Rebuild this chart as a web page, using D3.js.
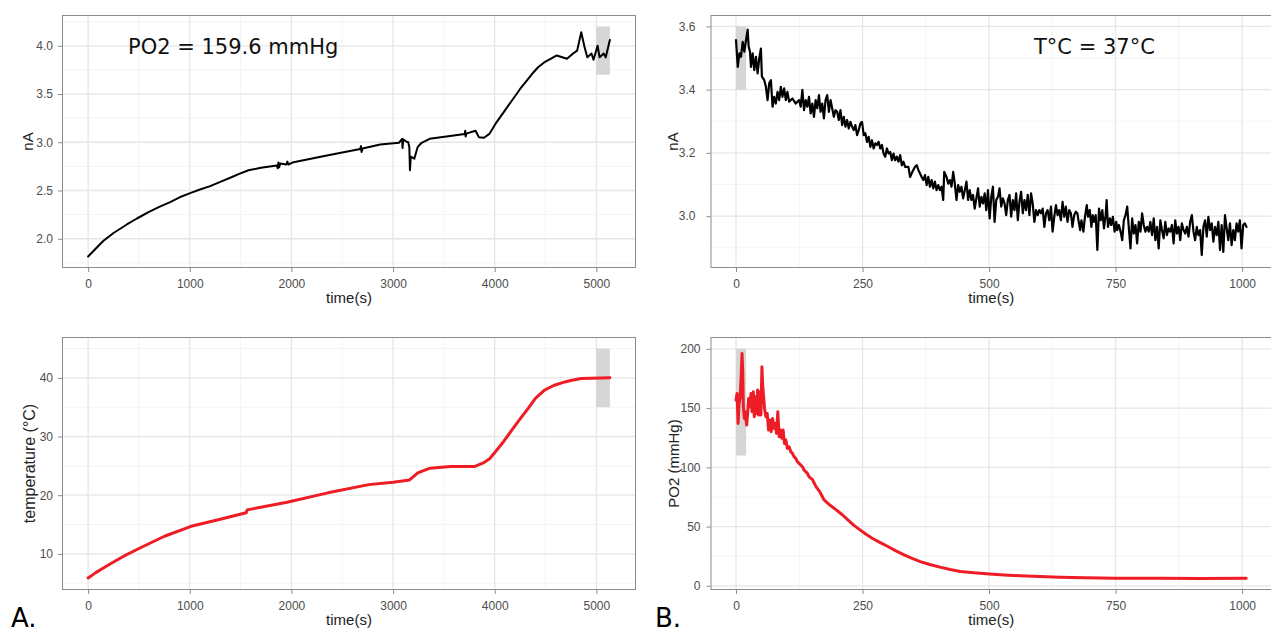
<!DOCTYPE html>
<html><head><meta charset="utf-8">
<script src="https://cdn.jsdelivr.net/npm/d3@7"></script>
<style>body{margin:0;background:#fff} svg{display:block}</style>
</head><body>
<svg id="c" width="1271" height="633"></svg>
<script>
// ---------- DATA ----------
// Panel A (top): electrode current (nA) vs time (s)
const currentA = [[0,1.816],[50,1.87],[100,1.925],[151,1.98],[250,2.06],[381,2.148],[480,2.21],[594,2.276],[700,2.33],[807,2.38],[900,2.43],[1004,2.473],[1100,2.51],[1201,2.545],[1300,2.59],[1398,2.632],[1480,2.67],[1578,2.71],[1700,2.735],[1857,2.76],[1865,2.73],[1872,2.79],[1880,2.74],[1890,2.78],[1950,2.77],[1960,2.80],[1970,2.77],[2021,2.794],[2349,2.863],[2677,2.93],[2685,2.96],[2690,2.90],[2700,2.935],[2874,2.977],[3005,2.99],[3058,2.995],[3090,3.036],[3093,2.94],[3100,3.03],[3125,3.01],[3149,3.00],[3160,2.95],[3166,2.71],[3175,2.85],[3209,2.83],[3242,2.95],[3276,2.99],[3360,3.036],[3543,3.063],[3705,3.085],[3710,3.12],[3714,3.06],[3720,3.09],[3811,3.12],[3844,3.053],[3895,3.047],[3950,3.09],[4007,3.19],[4087,3.31],[4168,3.43],[4248,3.55],[4369,3.71],[4429,3.78],[4490,3.83],[4550,3.865],[4610,3.90],[4711,3.865],[4771,3.92],[4811,3.95],[4851,4.14],[4883,3.99],[4911,3.88],[4952,3.92],[4972,3.855],[5012,4.00],[5032,3.88],[5072,3.92],[5092,3.88],[5133,4.06]];
// Panel A (bottom): temperature (°C) vs time (s)
const temperatureA = [[0,5.9],[75,6.8],[150,7.6],[250,8.6],[350,9.6],[510,11.0],[751,13.0],[1013,14.7],[1300,15.9],[1555,17.0],[1565,17.5],[1957,18.8],[2359,20.4],[2761,21.8],[3002,22.2],[3163,22.6],[3243,23.8],[3364,24.6],[3565,24.9],[3806,24.9],[3887,25.5],[3950,26.2],[4007,27.4],[4090,29.2],[4168,31.1],[4250,33.0],[4329,34.8],[4400,36.5],[4490,37.9],[4580,38.7],[4690,39.3],[4760,39.6],[4851,39.9],[5133,40.0]];
// Panel B (top): electrode current (nA) vs time (s) at 37 °C
const currentB = [[0,3.557],[3.4,3.472],[6.7,3.515],[9.9,3.504],[13.2,3.551],[16.5,3.520],[19.8,3.557],[23.0,3.590],[25.0,3.536],[27.6,3.520],[29.6,3.472],[32.9,3.515],[36.1,3.462],[39.4,3.504],[42.7,3.451],[45.9,3.499],[49.2,3.530],[51.2,3.441],[55.8,3.430],[59.1,3.409],[62.3,3.367],[65.6,3.420],[68.9,3.430],[72.2,3.346],[75.4,3.377],[78.7,3.356],[82.0,3.393],[85.3,3.367],[88.5,3.409],[91.8,3.377],[95.1,3.404],[98.4,3.367],[101.6,3.393],[104.9,3.362],[111.5,3.372],[118.0,3.356],[124.6,3.367],[127.8,3.346],[131.1,3.399],[134.4,3.335],[137.7,3.367],[140.9,3.346],[144.2,3.377],[147.5,3.325],[150.8,3.356],[154.0,3.314],[157.3,3.367],[160.6,3.341],[163.9,3.383],[167.1,3.330],[170.4,3.356],[173.7,3.309],[176.9,3.367],[180.2,3.383],[183.5,3.330],[186.8,3.367],[190.0,3.341],[193.3,3.314],[196.6,3.335],[199.9,3.330],[203.1,3.304],[206.4,3.335],[209.7,3.288],[213.0,3.314],[216.2,3.283],[219.5,3.304],[222.8,3.277],[226.1,3.298],[229.3,3.283],[232.6,3.272],[235.9,3.288],[239.2,3.256],[242.4,3.272],[245.7,3.293],[249.0,3.298],[252.3,3.256],[255.5,3.262],[258.8,3.235],[262.1,3.251],[265.4,3.219],[268.6,3.240],[271.9,3.214],[275.2,3.230],[278.5,3.225],[281.7,3.235],[285.0,3.214],[288.3,3.225],[291.6,3.198],[294.8,3.188],[298.1,3.214],[301.4,3.198],[304.7,3.203],[307.9,3.177],[311.2,3.198],[314.5,3.177],[317.8,3.188],[321.0,3.172],[324.3,3.193],[327.6,3.161],[330.9,3.172],[334.1,3.156],[340.7,3.156],[343.9,3.124],[348.5,3.140],[353.7,3.156],[357.0,3.161],[360.3,3.146],[363.6,3.135],[366.8,3.124],[370.1,3.114],[373.4,3.130],[376.7,3.098],[379.9,3.124],[383.2,3.093],[386.5,3.114],[389.8,3.088],[393.0,3.109],[396.3,3.082],[399.6,3.098],[402.9,3.082],[406.1,3.093],[409.4,3.051],[411.4,3.140],[416.0,3.124],[419.2,3.103],[422.5,3.114],[425.8,3.093],[429.1,3.140],[432.3,3.103],[435.6,3.051],[438.9,3.098],[442.2,3.077],[445.4,3.093],[448.7,3.056],[452.0,3.082],[455.3,3.109],[458.5,3.051],[461.8,3.082],[465.1,3.051],[468.4,3.067],[471.6,3.024],[474.9,3.056],[478.2,3.088],[481.5,3.030],[484.7,3.061],[488.0,3.040],[491.3,3.072],[494.5,3.019],[497.8,3.082],[501.1,2.993],[504.4,3.061],[507.6,3.093],[510.9,2.982],[514.2,3.051],[517.5,3.061],[520.7,3.088],[524.0,3.030],[527.3,3.056],[530.6,3.040],[533.8,3.003],[537.1,3.051],[540.4,3.067],[543.7,2.998],[546.9,3.051],[550.2,3.019],[553.5,3.072],[556.8,2.987],[560.0,3.045],[563.3,3.077],[566.6,3.009],[569.9,3.051],[573.1,3.019],[576.4,3.067],[579.7,3.003],[583.0,3.072],[586.2,3.040],[589.5,2.982],[592.8,3.019],[596.1,3.003],[599.3,3.019],[602.6,3.009],[605.9,3.024],[609.2,2.966],[612.4,3.009],[615.7,3.019],[619.0,2.987],[622.3,3.030],[625.5,2.951],[628.8,2.998],[632.1,3.035],[635.4,3.003],[638.6,3.019],[641.9,2.987],[645.2,3.045],[648.5,2.998],[651.7,3.030],[655.0,2.982],[658.3,3.019],[661.6,3.009],[664.8,2.966],[668.1,3.003],[671.4,3.014],[674.6,3.009],[676.0,2.993],[679.9,2.956],[682.5,2.987],[686.4,2.951],[689.1,2.993],[693.0,3.035],[695.6,2.998],[698.9,3.019],[702.2,2.966],[704.8,3.003],[707.4,2.982],[710.7,3.003],[713.9,2.893],[717.2,3.024],[720.5,2.987],[723.8,3.019],[727.0,2.961],[730.3,3.003],[732.3,3.051],[734.9,2.966],[738.8,2.993],[741.4,2.972],[744.7,2.998],[748.0,2.951],[751.3,2.982],[753.2,2.956],[756.5,2.972],[759.8,2.951],[763.1,2.924],[766.3,2.987],[769.6,3.003],[772.9,3.030],[776.2,2.961],[779.4,2.898],[782.7,2.993],[786.0,2.945],[789.3,2.972],[792.5,2.914],[795.8,2.982],[799.1,2.951],[802.4,3.009],[805.6,2.972],[808.9,2.951],[812.2,2.966],[815.5,2.951],[818.7,2.982],[822.0,2.940],[825.3,2.993],[828.5,2.924],[831.8,2.966],[835.1,2.898],[838.4,2.987],[841.6,2.956],[844.9,2.930],[848.2,2.982],[851.5,2.940],[854.7,2.961],[858.0,2.951],[861.3,2.972],[864.6,2.914],[867.8,2.987],[871.1,2.945],[874.4,2.966],[877.7,2.924],[880.9,2.977],[884.2,2.956],[887.5,2.945],[890.8,2.966],[894.0,2.935],[897.3,2.982],[900.6,3.003],[903.9,2.951],[907.1,2.924],[910.4,2.966],[913.7,2.940],[917.0,2.956],[920.2,2.877],[923.5,2.966],[926.8,2.987],[930.1,2.935],[933.3,2.998],[936.6,2.956],[939.9,2.977],[943.2,2.919],[946.4,2.966],[949.7,2.940],[953.0,2.982],[956.3,2.893],[959.5,2.972],[962.8,2.887],[966.1,3.003],[969.4,2.961],[972.6,2.924],[975.9,2.977],[979.2,2.908],[982.5,2.956],[985.7,2.924],[989.0,2.977],[992.3,2.951],[995.5,2.987],[998.8,2.898],[1002.1,2.972],[1005.4,2.977],[1008.6,2.966]];
// Panel B (bottom): PO2 (mmHg) vs time (s)
const po2B = [[0,156.8],[2.1,162.4],[4.1,137.1],[6.0,154.0],[8.0,158.2],[9.9,173.6],[11.9,196.1],[13.2,182.1],[14.5,151.1],[16.5,141.3],[18.5,146.9],[19.8,139.9],[21.1,135.7],[23.0,145.5],[25.0,158.2],[27.6,151.1],[29.6,162.4],[31.6,146.9],[34.2,163.8],[36.1,142.7],[38.1,159.6],[40.7,145.5],[42.7,165.2],[44.7,144.1],[47.3,163.8],[49.2,144.1],[51.2,184.9],[52.5,170.8],[54.5,159.6],[56.4,149.7],[59.1,142.7],[61.7,145.5],[64.3,131.5],[66.9,139.9],[69.5,130.1],[72.2,141.3],[74.8,132.9],[77.4,137.1],[80.0,128.7],[82.6,146.9],[85.3,125.9],[87.9,131.5],[90.5,124.5],[93.1,131.5],[95.7,120.2],[98.4,123.1],[101.6,116.0],[104.9,117.4],[108.2,113.2],[111.5,111.8],[114.7,109.0],[118.0,107.6],[121.3,104.8],[124.6,103.4],[127.8,102.0],[131.1,100.6],[134.4,97.8],[137.7,96.4],[140.9,95.0],[144.2,92.2],[147.5,90.8],[150.8,89.9],[158,83.7],[166,79.0],[174,72.5],[186,68.0],[198,64.1],[210,60.0],[221,55.7],[233,51.0],[245,47.2],[257,43.5],[269,40.2],[285,36.5],[300,33.2],[316,29.5],[332,26.2],[348,23.2],[364,20.5],[383,18.0],[403,15.8],[423,13.8],[443,12.1],[470,11.0],[501,10.1],[530,9.2],[561,8.5],[600,7.8],[640,7.3],[690,6.9],[749,6.5],[838,6.5],[917,6.2],[1008,6.5]];

// Tick values
const timeTicksA = [0,1000,2000,3000,4000,5000];
const timeMinorA = [500,1500,2500,3500,4500];
const timeTicksB = [0,250,500,750,1000];
const timeMinorB = [125,375,625,875];
const nATicksA = [2.0,2.5,3.0,3.5,4.0];
const nAMinorA = [1.75,2.25,2.75,3.25,3.75,4.25];
const tempTicks = [10,20,30,40];
const tempMinor = [5,15,25,35,45];
const nATicksB = [3.0,3.2,3.4,3.6];
const nAMinorB = [2.9,3.1,3.3,3.5];
const po2Ticks = [0,50,100,150,200];
const po2Minor = [25,75,125,175];

// Shaded reference windows [x0,x1,y0,y1]
const windowAtop = [5000,5133,3.7,4.2];
const windowAbot = [5000,5133,35,45];
const windowBtop = [0,20,3.4,3.6];
const windowBbot = [0,20,110,200];

// ---------- DRAW ----------
const svg = d3.select('#c');
svg.append('rect').attr('width',1271).attr('height',633).attr('fill','#fff');

function panel(c){
  const g = svg.append('g');
  const x = d3.scaleLinear().domain(c.xDomain).range([c.left, c.right]);
  const y = d3.scaleLinear().domain(c.yDomain).range([c.bottom, c.top]);
  const minorCol = '#f4f4f4', majorCol = '#e6e6e6';
  g.selectAll(null).data(c.xMinor).join('line')
    .attr('x1',d=>x(d)).attr('x2',d=>x(d)).attr('y1',c.top).attr('y2',c.bottom)
    .attr('stroke',minorCol).attr('stroke-width',1);
  g.selectAll(null).data(c.yMinor).join('line')
    .attr('y1',d=>y(d)).attr('y2',d=>y(d)).attr('x1',c.left).attr('x2',c.right)
    .attr('stroke',minorCol).attr('stroke-width',1);
  g.selectAll(null).data(c.xTicks).join('line')
    .attr('x1',d=>x(d)).attr('x2',d=>x(d)).attr('y1',c.top).attr('y2',c.bottom)
    .attr('stroke',majorCol).attr('stroke-width',1.3);
  g.selectAll(null).data(c.yTicks).join('line')
    .attr('y1',d=>y(d)).attr('y2',d=>y(d)).attr('x1',c.left).attr('x2',c.right)
    .attr('stroke',majorCol).attr('stroke-width',1.3);
  const w = c.window;
  g.append('rect').attr('x',x(w[0])).attr('width',x(w[1])-x(w[0]))
    .attr('y',y(w[3])).attr('height',y(w[2])-y(w[3])).attr('fill','#d6d6d6');
  const line = d3.line().x(d=>x(d[0])).y(d=>y(d[1]));
  g.append('path').datum(c.data).attr('d',line).attr('fill','none')
    .attr('stroke',c.color).attr('stroke-width',c.lw)
    .attr('stroke-linejoin','round').attr('stroke-linecap','round');
  g.append('rect').attr('x',c.left+0.5).attr('y',c.top+0.5)
    .attr('width',c.right-c.left-1).attr('height',c.bottom-c.top-1)
    .attr('fill','none').attr('stroke','#8c8c8c').attr('stroke-width',1);
  const xa = g.append('g').attr('transform',`translate(0,${c.bottom})`)
    .call(d3.axisBottom(x).tickValues(c.xTicks).tickSize(4).tickPadding(7).tickFormat(d3.format('d')));
  const ya = g.append('g').attr('transform',`translate(${c.left},0)`)
    .call(d3.axisLeft(y).tickValues(c.yTicks).tickSize(4).tickPadding(c.yPad).tickFormat(c.yFmt));
  [xa,ya].forEach(a=>{
    a.select('.domain').remove();
    a.selectAll('.tick line').attr('stroke','#8c8c8c');
    a.selectAll('.tick text').attr('fill','#4d4d4d')
      .style('font-family','"Liberation Sans", Arial, sans-serif').style('font-size','12px');
  });
  g.append('text').attr('x',(c.left+c.right)/2).attr('y',c.bottom+35)
    .attr('text-anchor','middle').style('font-family','"Liberation Sans", Arial, sans-serif')
    .style('font-size','15px').attr('fill','#222').text('time(s)');
  g.append('text').attr('transform',`translate(${c.yTitleX},${(c.top+c.bottom)/2}) rotate(-90)`)
    .attr('text-anchor','middle').style('font-family','"Liberation Sans", Arial, sans-serif')
    .style('font-size',c.yTitleSize+'px').attr('fill','#222').text(c.yTitle);
}

const fmt1 = d3.format('.1f'), fmt0 = d3.format('d');
panel({left:62,right:636,top:15,bottom:268,xDomain:[-257,5390],yDomain:[1.697,4.319],
  xTicks:timeTicksA,xMinor:timeMinorA,yTicks:nATicksA,yMinor:nAMinorA,yFmt:fmt1,yPad:5,
  data:currentA,color:'#000',lw:2,window:windowAtop,yTitle:'nA',yTitleX:33,yTitleSize:15});
panel({left:62,right:636,top:337,bottom:590,xDomain:[-257,5390],yDomain:[3.84,46.96],
  xTicks:timeTicksA,xMinor:timeMinorA,yTicks:tempTicks,yMinor:tempMinor,yFmt:fmt0,yPad:5,
  data:temperatureA,color:'#ee1c25',lw:3,window:windowAbot,yTitle:'temperature (°C)',yTitleX:35,yTitleSize:16});
panel({left:710.5,right:1272,top:15,bottom:268,xDomain:[-50.4,1059],yDomain:[2.836,3.636],
  xTicks:timeTicksB,xMinor:timeMinorB,yTicks:nATicksB,yMinor:nAMinorB,yFmt:fmt1,yPad:11,
  data:currentB,color:'#000',lw:2.2,window:windowBtop,yTitle:'nA',yTitleX:678,yTitleSize:15});
panel({left:710.5,right:1272,top:337,bottom:590,xDomain:[-50.4,1059],yDomain:[-3.5,210],
  xTicks:timeTicksB,xMinor:timeMinorB,yTicks:po2Ticks,yMinor:po2Minor,yFmt:fmt0,yPad:6,
  data:po2B,color:'#ee1c25',lw:3,window:windowBbot,yTitle:'PO2 (mmHg)',yTitleX:679,yTitleSize:15});

// annotations
svg.append('text').attr('x',128).attr('y',53.5).style('font-family','"DejaVu Sans", sans-serif')
  .style('font-size','21px').attr('fill','#111').text('PO2 = 159.6 mmHg');
svg.append('text').attr('x',1034).attr('y',54).style('font-family','"DejaVu Sans", sans-serif')
  .style('font-size','21px').attr('fill','#111').text('T°C = 37°C');
svg.append('text').attr('x',11).attr('y',627).style('font-family','"DejaVu Sans", sans-serif')
  .style('font-size','26px').attr('fill','#000').text('A.');
svg.append('text').attr('x',655).attr('y',627).style('font-family','"DejaVu Sans", sans-serif')
  .style('font-size','26px').attr('fill','#000').text('B.');
</script>
</body></html>
